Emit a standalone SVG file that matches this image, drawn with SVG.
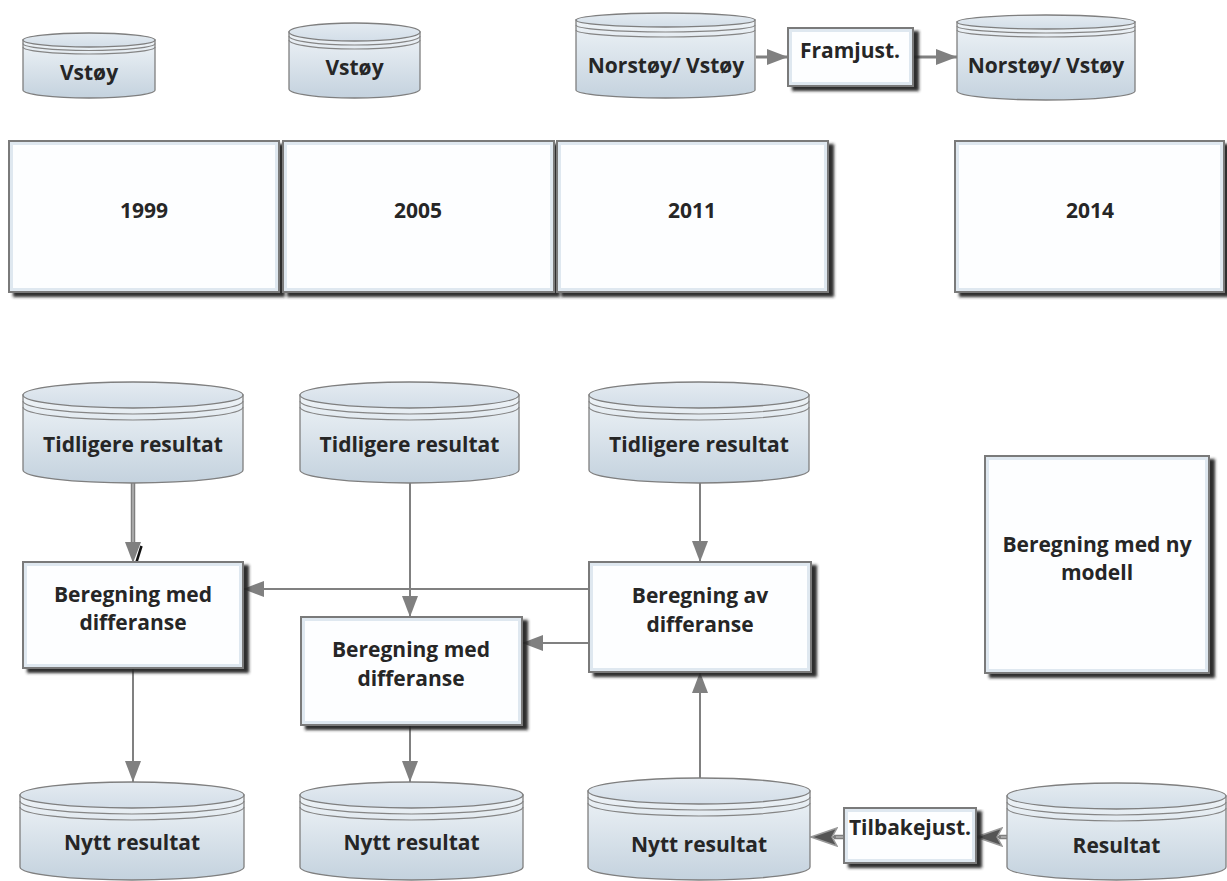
<svg xmlns="http://www.w3.org/2000/svg" width="1227" height="881" viewBox="0 0 1227 881">
<defs>
<style>
.t{font-family:"Open Sans","Liberation Sans",sans-serif;font-weight:700;font-size:21px;fill:#262626;text-anchor:middle}
.cb{fill:url(#cylBody);stroke:#7f7f7f;stroke-width:1.3}
.ct{fill:url(#cylTop);stroke:#7f7f7f;stroke-width:1.3}
.rg{fill:none;stroke:#858585;stroke-width:1.2}
.bx{fill:#fdfeff;stroke:#7a7a7a;stroke-width:2;filter:url(#sh)}
.bev{fill:none;stroke:#dfe8f0;stroke-width:3}
.ln{fill:none;stroke:#808080;stroke-width:2}
.ln3{fill:none;stroke:#808080;stroke-width:3}
.thk{fill:none;stroke:#7f7f7f;stroke-width:4.5}
.hl{fill:none;stroke:#c4c4c4;stroke-width:1.2}
</style>
<linearGradient id="cylBody" x1="0" y1="0" x2="0" y2="1">
<stop offset="0" stop-color="#eef3f7"/><stop offset="1" stop-color="#c4d2de"/>
</linearGradient>
<linearGradient id="cylTop" x1="0" y1="0" x2="0" y2="1">
<stop offset="0" stop-color="#e4ebf1"/><stop offset="1" stop-color="#d3dee8"/>
</linearGradient>
<filter id="sh" x="-5%" y="-5%" width="115%" height="120%">
<feGaussianBlur in="SourceAlpha" stdDeviation="1.4"/>
<feOffset dx="5" dy="4" result="o"/>
<feFlood flood-color="#222" flood-opacity="0.95"/>
<feComposite in2="o" operator="in" result="ds"/>
<feMerge><feMergeNode in="ds"/><feMergeNode in="SourceGraphic"/></feMerge>
</filter>
<marker id="ah" viewBox="0 0 21 16" refX="21" refY="8" markerWidth="21" markerHeight="16" markerUnits="userSpaceOnUse" orient="auto">
<path d="M0,0 L21,8 L0,16 Z" fill="#808080"/>
</marker>
<marker id="ahd" viewBox="0 0 28 20" refX="27" refY="10" markerWidth="28" markerHeight="20" markerUnits="userSpaceOnUse" orient="auto">
<path d="M1,1 L27,10 L1,19 L6,10 Z" fill="#555" stroke="#9a9a9a" stroke-width="1.5"/>
</marker>
</defs>
<rect width="1227" height="881" fill="#fff"/>

<g id="connectors">
<path class="ln3" d="M756,57 H788" marker-end="url(#ah)"/>
<path class="ln3" d="M913,57 H957" marker-end="url(#ah)"/>
<path class="thk" d="M133,483 V545"/>
<path class="hl" d="M133,483 V545"/>
<path class="ln" d="M133,545 V563" marker-end="url(#ah)"/>
<path d="M141.5,546 L135.5,565" stroke="#111" stroke-width="2.5"/>
<path class="ln" d="M410,483 V617" marker-end="url(#ah)"/>
<path class="ln" d="M700,483 V562" marker-end="url(#ah)"/>
<path class="ln" d="M589,589 H243" marker-end="url(#ah)"/>
<path class="ln" d="M589,643 H522" marker-end="url(#ah)"/>
<path class="ln" d="M700,778 V672" marker-end="url(#ah)"/>
<path class="ln" d="M133,668 V782" marker-end="url(#ah)"/>
<path class="ln" d="M410,725 V782" marker-end="url(#ah)"/>
<path class="thk" d="M844,837 H834"/>
<path class="hl" d="M844,837 H834"/>
<path class="ln" d="M836,837 H811" marker-end="url(#ahd)"/>
<path class="thk" d="M1007,837 H999"/>
<path class="hl" d="M1007,837 H999"/>
<path class="ln" d="M1001,837 H976" marker-end="url(#ahd)"/>
</g>

<g id="cyl-vstoy-1999">
<path class="cb" d="M23,40 V90 A66,8 0 0 0 155,90 V40 Z"/>
<ellipse class="ct" cx="89" cy="40" rx="66" ry="7"/>
<path class="rg" d="M23,43.5 A66,7 0 0 0 155,43.5 M23,47 A66,7 0 0 0 155,47"/>
<text class="t" x="89" y="80">Vstøy</text>
</g>
<g id="cyl-vstoy-2005">
<path class="cb" d="M289,32 V89 A65.5,9 0 0 0 420,89 V32 Z"/>
<ellipse class="ct" cx="354.5" cy="32" rx="65.5" ry="9"/>
<path class="rg" d="M289,36 A65.5,9 0 0 0 420,36 M289,40 A65.5,9 0 0 0 420,40"/>
<text class="t" x="354.5" y="75">Vstøy</text>
</g>
<g id="cyl-norstoy-2011">
<path class="cb" d="M576,20 V90 A89.5,8 0 0 0 755,90 V20 Z"/>
<ellipse class="ct" cx="665.5" cy="20" rx="89.5" ry="7"/>
<path class="rg" d="M576,25 A89.5,7 0 0 0 755,25 M576,30 A89.5,7 0 0 0 755,30"/>
<text class="t" x="666" y="73">Norstøy/ Vstøy</text>
</g>
<g id="box-framjust">
<rect class="bx" x="788" y="28" width="125" height="58"/>
<rect class="bev" x="790.5" y="30.5" width="120" height="53"/>
<text class="t" x="850" y="58">Framjust.</text>
</g>
<g id="cyl-norstoy-2014">
<path class="cb" d="M957,22 V91 A89,9 0 0 0 1135,91 V22 Z"/>
<ellipse class="ct" cx="1046" cy="22" rx="89" ry="7"/>
<path class="rg" d="M957,26 A89,7 0 0 0 1135,26 M957,30 A89,7 0 0 0 1135,30"/>
<text class="t" x="1046" y="73">Norstøy/ Vstøy</text>
</g>

<g id="year-1999">
<rect class="bx" x="9" y="141" width="270" height="151"/>
<rect class="bev" x="11.5" y="143.5" width="265" height="146"/>
<text class="t" x="144" y="218">1999</text>
</g>
<g id="year-2005">
<rect class="bx" x="283" y="141" width="271" height="151"/>
<rect class="bev" x="285.5" y="143.5" width="266" height="146"/>
<text class="t" x="418" y="218">2005</text>
</g>
<g id="year-2011">
<rect class="bx" x="557" y="141" width="271" height="151"/>
<rect class="bev" x="559.5" y="143.5" width="266" height="146"/>
<text class="t" x="692" y="218">2011</text>
</g>
<g id="year-2014">
<rect class="bx" x="955" y="141" width="269" height="151"/>
<rect class="bev" x="957.5" y="143.5" width="264" height="146"/>
<text class="t" x="1090" y="218">2014</text>
</g>

<g id="cyl-tidligere-1">
<path class="cb" d="M23,395 V470 A110,13 0 0 0 243,470 V395 Z"/>
<ellipse class="ct" cx="133" cy="395" rx="110" ry="13"/>
<path class="rg" d="M23,401 A110,13 0 0 0 243,401 M23,407 A110,13 0 0 0 243,407"/>
<text class="t" x="133" y="452">Tidligere resultat</text>
</g>
<g id="cyl-tidligere-2">
<path class="cb" d="M300,395 V470 A109.5,13 0 0 0 519,470 V395 Z"/>
<ellipse class="ct" cx="409.5" cy="395" rx="109.5" ry="13"/>
<path class="rg" d="M300,401 A109.5,13 0 0 0 519,401 M300,407 A109.5,13 0 0 0 519,407"/>
<text class="t" x="409.5" y="452">Tidligere resultat</text>
</g>
<g id="cyl-tidligere-3">
<path class="cb" d="M589,395 V470 A110,13 0 0 0 809,470 V395 Z"/>
<ellipse class="ct" cx="699" cy="395" rx="110" ry="13"/>
<path class="rg" d="M589,401 A110,13 0 0 0 809,401 M589,407 A110,13 0 0 0 809,407"/>
<text class="t" x="699" y="452">Tidligere resultat</text>
</g>

<g id="box-beregning-med-1">
<rect class="bx" x="23" y="562" width="220" height="106"/>
<rect class="bev" x="25.5" y="564.5" width="215" height="101"/>
<text class="t" x="133" y="602">Beregning med</text>
<text class="t" x="133" y="630">differanse</text>
</g>
<g id="box-beregning-med-2">
<rect class="bx" x="301" y="617" width="221" height="108"/>
<rect class="bev" x="303.5" y="619.5" width="216" height="103"/>
<text class="t" x="411" y="657">Beregning med</text>
<text class="t" x="411" y="686">differanse</text>
</g>
<g id="box-beregning-av">
<rect class="bx" x="589" y="562" width="222" height="110"/>
<rect class="bev" x="591.5" y="564.5" width="217" height="105"/>
<text class="t" x="700" y="603">Beregning av</text>
<text class="t" x="700" y="632">differanse</text>
</g>
<g id="box-ny-modell">
<rect class="bx" x="985" y="456" width="224" height="217"/>
<rect class="bev" x="987.5" y="458.5" width="219" height="212"/>
<text class="t" x="1097" y="552">Beregning med ny</text>
<text class="t" x="1097" y="580">modell</text>
</g>

<g id="cyl-nytt-1">
<path class="cb" d="M20,795 V867 A112,13 0 0 0 244,867 V795 Z"/>
<ellipse class="ct" cx="132" cy="795" rx="112" ry="13"/>
<path class="rg" d="M20,801 A112,13 0 0 0 244,801 M20,807 A112,13 0 0 0 244,807"/>
<text class="t" x="132" y="850">Nytt resultat</text>
</g>
<g id="cyl-nytt-2">
<path class="cb" d="M300,795 V867 A111.5,13 0 0 0 523,867 V795 Z"/>
<ellipse class="ct" cx="411.5" cy="795" rx="111.5" ry="13"/>
<path class="rg" d="M300,801 A111.5,13 0 0 0 523,801 M300,807 A111.5,13 0 0 0 523,807"/>
<text class="t" x="411.5" y="850">Nytt resultat</text>
</g>
<g id="cyl-nytt-3">
<path class="cb" d="M588,791 V867 A111,13 0 0 0 810,867 V791 Z"/>
<ellipse class="ct" cx="699" cy="791" rx="111" ry="13"/>
<path class="rg" d="M588,797 A111,13 0 0 0 810,797 M588,803 A111,13 0 0 0 810,803"/>
<text class="t" x="699" y="852">Nytt resultat</text>
</g>
<g id="box-tilbakejust">
<rect class="bx" x="844" y="808" width="132" height="55"/>
<rect class="bev" x="846.5" y="810.5" width="127" height="50"/>
<text class="t" x="910" y="835">Tilbakejust.</text>
</g>
<g id="cyl-resultat">
<path class="cb" d="M1007,796 V867 A109.5,13 0 0 0 1226,867 V796 Z"/>
<ellipse class="ct" cx="1116.5" cy="796" rx="109.5" ry="13"/>
<path class="rg" d="M1007,802 A109.5,13 0 0 0 1226,802 M1007,808 A109.5,13 0 0 0 1226,808"/>
<text class="t" x="1116.5" y="853">Resultat</text>
</g>
</svg>
